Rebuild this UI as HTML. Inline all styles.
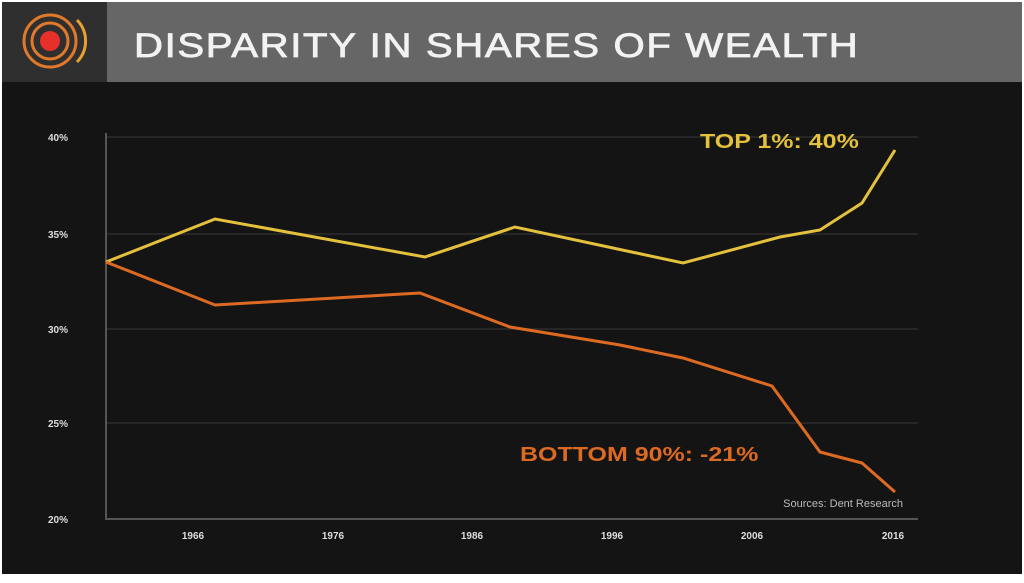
<!DOCTYPE html>
<html><head><style>
body{margin:0;width:1024px;height:578px;background:#fff;overflow:hidden;font-family:"Liberation Sans",sans-serif}
</style></head><body>
<svg width="1024" height="578" xmlns="http://www.w3.org/2000/svg">
<rect x="0" y="0" width="1024" height="578" fill="#ffffff"/>
<rect x="2" y="2" width="1020" height="572" fill="#141414"/>
<rect x="2" y="2" width="105" height="80" fill="#2f2f2f"/>
<rect x="107" y="2" width="915" height="80" fill="#666666"/>
<g fill="none" stroke="#e07a2a" stroke-width="3">
<circle cx="50" cy="41" r="26"/><circle cx="50" cy="41" r="18"/>
</g>
<circle cx="50" cy="41" r="10" fill="#e8302a"/>
<path d="M77 20 A30 30 0 0 1 77 62" fill="none" stroke="#e8a030" stroke-width="3"/>
<text transform="translate(134,57) scale(1.18,1)" fill="#f2f2f2" font-size="34" stroke="#f2f2f2" stroke-width="0.8" letter-spacing="1.4">DISPARITY IN SHARES OF WEALTH</text>
<g stroke="#2c2c2c" stroke-width="1.5">
<line x1="106" y1="137" x2="918" y2="137"/><line x1="106" y1="234" x2="918" y2="234"/>
<line x1="106" y1="329" x2="918" y2="329"/><line x1="106" y1="423" x2="918" y2="423"/>
</g>
<path d="M106 133 V519 H918" fill="none" stroke="#555" stroke-width="2"/>
<g fill="#ddd" font-size="10" font-weight="bold" text-anchor="middle">
<text x="58" y="141">40%</text><text x="58" y="238">35%</text><text x="58" y="333">30%</text><text x="58" y="427">25%</text><text x="58" y="523">20%</text>
<text x="193" y="539">1966</text><text x="333" y="539">1976</text><text x="472" y="539">1986</text><text x="612" y="539">1996</text><text x="752" y="539">2006</text><text x="893" y="539">2016</text>
</g>
<polyline points="106,262 215,219 425,257 515,227 683,263 780,237 820,230 862,203 895,150" fill="none" stroke="#e4c13c" stroke-width="3"/>
<polyline points="106,262 215,305 420,293 510,327 620,345 683,358 772,386 820,452 862,463 895,492" fill="none" stroke="#dd6a22" stroke-width="3"/>
<text transform="translate(700,148) scale(1.25,1)" fill="#e4c13c" font-size="20" font-weight="bold">TOP 1%: 40%</text>
<text transform="translate(520,461) scale(1.25,1)" fill="#dd6a22" font-size="20" font-weight="bold">BOTTOM 90%: -21%</text>
<text x="903" y="507" fill="#bbb" font-size="11" text-anchor="end">Sources: Dent Research</text>
</svg>
</body></html>
